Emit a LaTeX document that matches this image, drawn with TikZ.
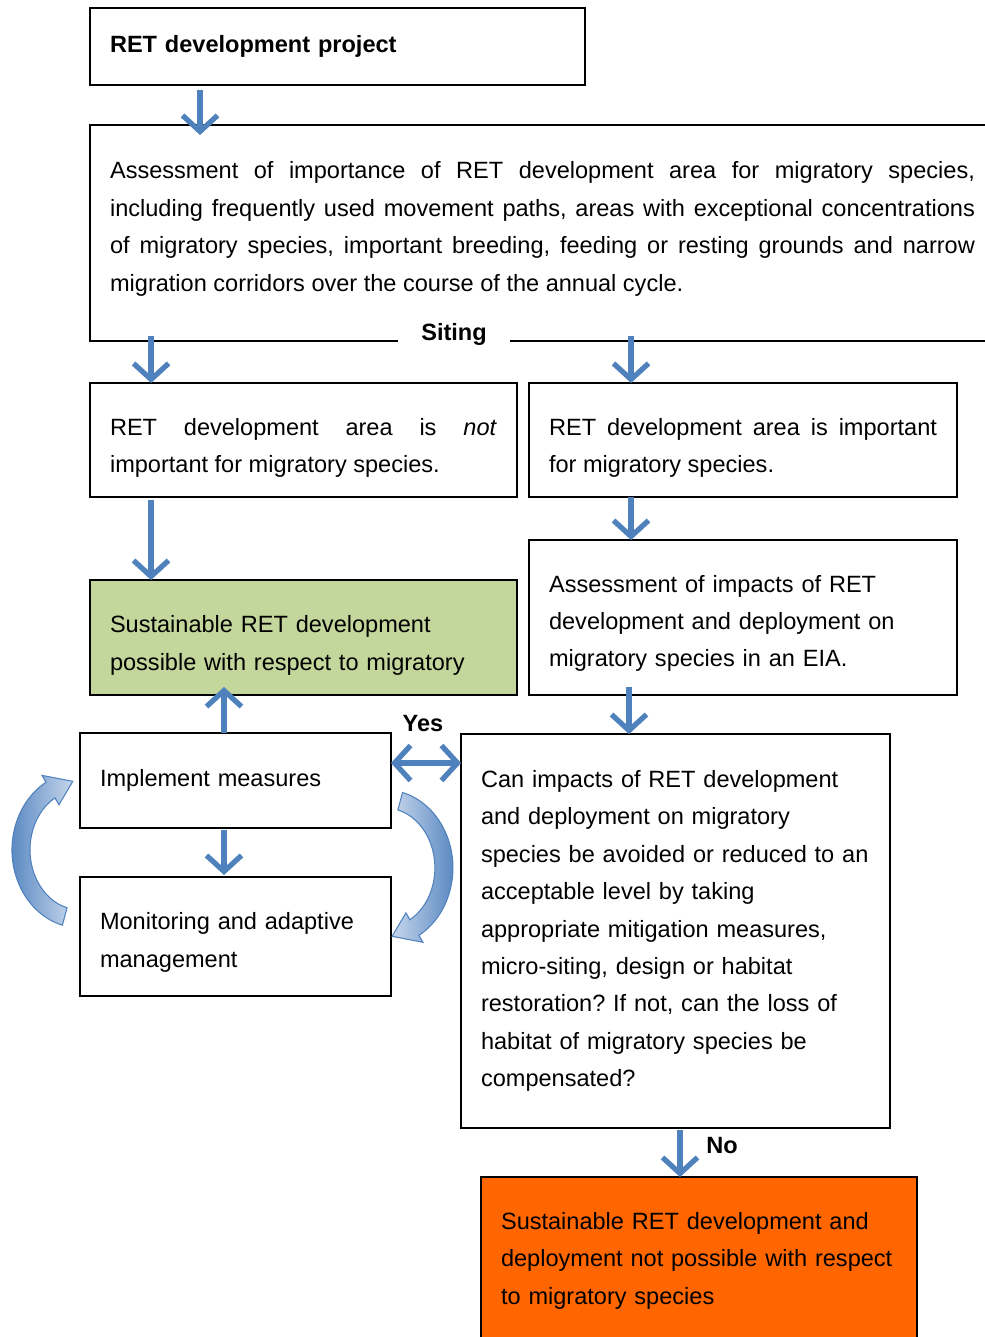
\documentclass[tikz,border=0pt]{standalone}
\usepackage{fontspec}
\setmainfont{Liberation Sans}
\usetikzlibrary{arrows.meta}
\definecolor{arrowblue}{HTML}{4F81BD}
\definecolor{lightblue}{HTML}{C6D6EC}
\definecolor{okgreen}{HTML}{C3D69B}
\definecolor{noorange}{HTML}{FF6600}
\frenchspacing

\begin{document}
\begin{tikzpicture}[x=0.02cm, y=-0.02cm,
  every node/.style={font=\fontsize{13.4}{21.3}\selectfont, outer sep=0pt},
  box/.style={draw, line width=1pt, inner xsep=0.4cm, inner ysep=0pt, align=left},
  arr/.style={draw=arrowblue, line width=3pt, -{Straight Barb[length=3.2mm,width=7mm]}},
  twoarr/.style={draw=arrowblue, line width=3pt, {Straight Barb[length=3.2mm,width=7mm]}-{Straight Barb[length=3.2mm,width=7mm]}},
  loopleft/.style={draw=arrowblue, line width=0.6pt, left color=arrowblue, right color=lightblue},
  loopright/.style={draw=arrowblue, line width=0.6pt, left color=lightblue, right color=arrowblue}]
\useasboundingbox (0,0) rectangle (984,1337);

\node[box, minimum height=1.54cm, text width=9.1cm] (proj) at (337.5,46.5) {\textbf{RET development project}};
\node[box, minimum height=4.32cm, text width=17.3cm, align=justify] (assess) at (542.5,233) {Assessment of importance of RET development area for migratory species,\linebreak including frequently used movement paths, areas with exceptional concentrations\linebreak of migratory species, important breeding, feeding or resting grounds and narrow\linebreak migration corridors over the course of the annual cycle.\rule[-7.5pt]{0pt}{7.5pt}};
\node[fill=white, inner xsep=0.46cm, inner ysep=2pt] (siting) at (454,334) {\textbf{Siting}};

\node[box, minimum height=2.28cm, text width=7.74cm, align=justify] (notimp) at (303.5,440) {\rule{0pt}{18.6pt}RET development area is \textit{not}\linebreak important for migratory species.};
\node[box, minimum height=2.28cm, text width=7.76cm, align=justify] (imp) at (743,440) {\rule{0pt}{18.6pt}RET development area is important\linebreak for migratory species.};
\node[box, fill=okgreen, minimum height=2.3cm, text width=7.74cm] (ok) at (303.5,637.5) {\rule{0pt}{18.6pt}Sustainable RET development\\possible with respect to migratory};
\node[box, minimum height=3.1cm, text width=7.76cm] (eia) at (743,617.5) {\rule{0pt}{16.4pt}Assessment of impacts of RET\\development and deployment on\\migratory species in an EIA.};

\node[box, minimum height=1.9cm, text width=5.42cm] (impl) at (235.5,780.5) {Implement measures};
\node[box, minimum height=2.38cm, text width=5.42cm] (monit) at (235.5,936.5) {\rule{0pt}{16.4pt}Monitoring and adaptive\\management};
\node[box, minimum height=7.88cm, text width=7.78cm] (mitig) at (675.5,931) {Can impacts of RET development\\and deployment on migratory\\species be avoided or reduced to an\\acceptable level by taking\\appropriate mitigation measures,\\micro-siting, design or habitat\\restoration? If not, can the loss of\\habitat of migratory species be\\compensated?};
\node[box, fill=noorange, minimum height=3.24cm, text width=7.92cm] (notok) at (699,1258) {\rule{0pt}{13pt}Sustainable RET development and\\deployment not possible with respect\\to migratory species};

\node (yes) at (423,724) {\textbf{Yes}};
\node (no) at (722,1146) {\textbf{No}};

\draw[arr] ([xshift=2.2cm,yshift=-0.1cm]proj.south west) -- ([xshift=2.2cm,yshift=-0.2cm]proj.south west |- assess.north);
\draw[arr] ([xshift=1.22cm,yshift=0.1cm]assess.south west) -- ([xshift=1.22cm]assess.south west |- notimp.north);
\draw[arr] ([xshift=2.04cm,yshift=0.1cm]imp.north west |- assess.south) -- ([xshift=2.04cm]imp.north west);
\draw[arr] ([xshift=2.04cm]imp.south west) -- ([xshift=2.04cm]imp.south west |- eia.north);
\draw[arr] ([xshift=1.22cm,yshift=-0.06cm]notimp.south west) -- ([xshift=1.22cm]notimp.south west |- ok.north);
\draw[arr] ([xshift=3.36cm,yshift=0.16cm]mitig.north west |- eia.south) -- ([xshift=3.36cm]mitig.north west);
\draw[arr] ([xshift=2.88cm]impl.north west) -- ([xshift=2.88cm,yshift=0.16cm]impl.north west |- ok.south);
\draw[arr] ([xshift=2.88cm,yshift=-0.04cm]impl.south west) -- ([xshift=2.88cm,yshift=0.04cm]impl.south west |- monit.north);
\draw[twoarr] ([yshift=-0.6cm]impl.north east) -- ([yshift=-0.6cm]impl.north east -| mitig.west);
\draw[arr] ([xshift=3.98cm,yshift=-0.04cm]notok.north west |- mitig.south) -- ([xshift=3.98cm]notok.north west);

\begin{scope}[shift={(1.6cm,-17cm)}, x=0.02cm, y=0.02cm]
\path[loopleft] (255:68 and 78) arc[start angle=255, end angle=120, x radius=68, y radius=78] -- (120:76 and 86) -- (97:59 and 69) -- (120:42 and 52) -- (120:50 and 60) arc[start angle=120, end angle=255, x radius=50, y radius=60] -- cycle;
\end{scope}
\begin{scope}[shift={(7.7cm,-17.36cm)}, x=0.02cm, y=0.02cm]
\path[loopright] (75:68 and 78) arc[start angle=75, end angle=-60, x radius=68, y radius=78] -- (-60:76 and 86) -- (-83:59 and 69) -- (-60:42 and 52) -- (-60:50 and 60) arc[start angle=-60, end angle=75, x radius=50, y radius=60] -- cycle;
\end{scope}
\end{tikzpicture}
\end{document}
